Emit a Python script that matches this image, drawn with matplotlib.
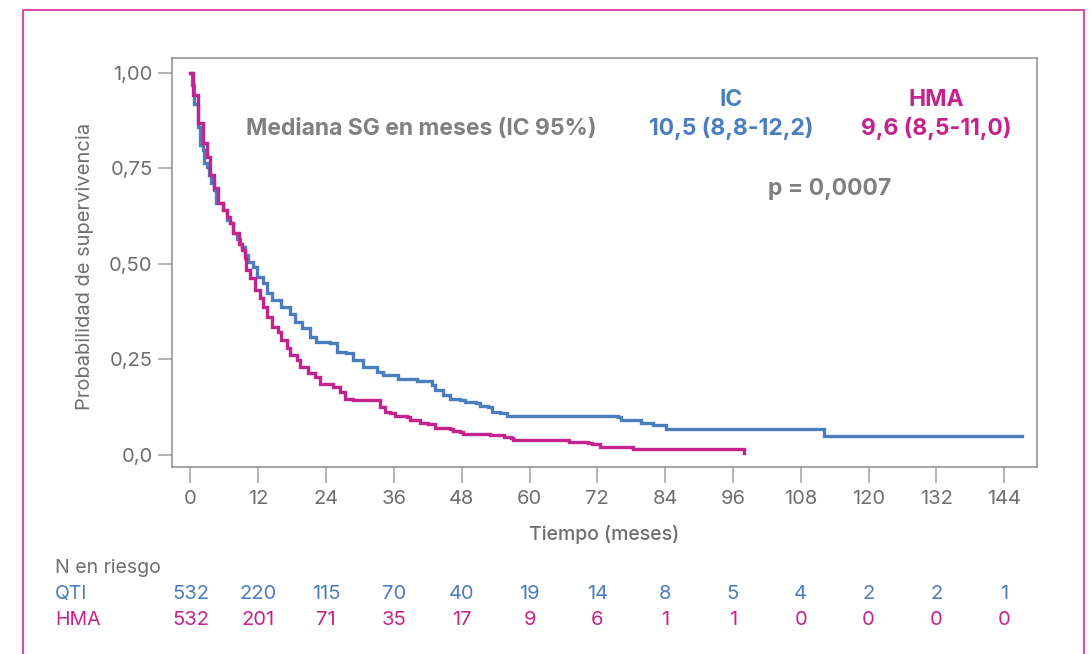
import matplotlib.pyplot as plt
from matplotlib.lines import Line2D

plt.rcParams['font.family'] = ['Inter', 'DejaVu Sans']

W, H = 1091, 654

BLUE = '#4a7ebf'
MAGENTA = '#c4228c'
GRAY = '#6d6e71'
LIGHT_GRAY = '#808080'

# Kaplan-Meier step points (months, survival probability)
qti_t = [0, 0.2, 0.3, 0.6, 1.4, 1.7, 2.2, 2.4, 2.9, 3.2, 3.7, 4.2, 4.6, 5.8, 6.4, 7.0,
         7.6, 8.2, 8.8, 9.1, 9.6, 10.2, 11.1, 11.7, 12.9, 13.5, 14.4, 16.1, 17.6, 18.5,
         19.7, 21.1, 22.3, 24.7, 25.9, 27.6, 28.8, 30.6, 33.0, 34.1, 36.8, 40.0, 42.7,
         43.3, 44.7, 45.9, 47.7, 48.6, 50.6, 51.2, 52.7, 53.3, 54.8, 56.0, 72.0, 75.7,
         76.1, 79.7, 81.8, 84.1, 112.1, 147.1]
qti_s = [1.0, 0.985, 0.967, 0.919, 0.858, 0.81, 0.797, 0.763, 0.754, 0.732, 0.71, 0.693,
         0.658, 0.64, 0.614, 0.606, 0.58, 0.566, 0.553, 0.545, 0.523, 0.505, 0.492, 0.466,
         0.449, 0.423, 0.405, 0.388, 0.370, 0.348, 0.331, 0.309, 0.296, 0.292, 0.270,
         0.266, 0.248, 0.231, 0.218, 0.209, 0.198, 0.194, 0.183, 0.170, 0.157, 0.148,
         0.144, 0.139, 0.135, 0.128, 0.126, 0.113, 0.111, 0.102, 0.102, 0.100, 0.093,
         0.085, 0.078, 0.069, 0.050, 0.050]

hma_t = [0, 0.5, 1.4, 2.3, 2.9, 3.5, 4.2, 4.9, 5.75, 6.4, 7.0, 7.6, 8.5, 9.1, 9.6, 9.9,
         10.5, 11.4, 12.3, 12.9, 13.5, 14.4, 15.5, 16.1, 17.0, 17.6, 18.8, 19.4, 20.8,
         22.0, 22.9, 25.3, 26.5, 27.3, 28.8, 33.5, 34.4, 35.3, 36.2, 38.3, 38.8, 40.6,
         42.1, 43.3, 45.9, 46.5, 47.7, 48.3, 53.0, 55.4, 56.8, 57.1, 66.9, 70.4, 71.0,
         72.5, 78.3, 97.8, 97.9]
hma_s = [1.0, 0.941, 0.867, 0.815, 0.78, 0.732, 0.698, 0.658, 0.64, 0.623, 0.606, 0.58,
         0.553, 0.536, 0.514, 0.484, 0.462, 0.431, 0.410, 0.388, 0.362, 0.335, 0.322,
         0.301, 0.279, 0.261, 0.248, 0.231, 0.214, 0.205, 0.187, 0.179, 0.165, 0.148,
         0.144, 0.126, 0.113, 0.109, 0.102, 0.099, 0.093, 0.083, 0.081, 0.072, 0.068,
         0.063, 0.061, 0.055, 0.052, 0.048, 0.046, 0.039, 0.035, 0.032, 0.028, 0.022,
         0.0166, 0.0166, 0.005]

x_ticks = list(range(0, 145, 12))
y_ticks = [0.0, 0.25, 0.50, 0.75, 1.00]
y_labels = ['0,0', '0,25', '0,50', '0,75', '1,00']

risk_qti = [532, 220, 115, 70, 40, 19, 14, 8, 5, 4, 2, 2, 1]
risk_hma = [532, 201, 71, 35, 17, 9, 6, 1, 1, 0, 0, 0, 0]


def fx(x):
    return x / W


def fy(y):
    return 1 - y / H


fig = plt.figure(figsize=(W / 100, H / 100), dpi=100)

# pink outer frame, open at the bottom
fig.add_artist(Line2D([fx(23), fx(23), fx(1084), fx(1084)],
                      [fy(660), fy(9.5), fy(9.5), fy(660)],
                      color='#d6399f', lw=1.3))

ax = fig.add_axes([fx(172), fy(467), fx(1037) - fx(172), fy(58) - fy(467)])
ax.step(qti_t, qti_s, where='post', color=BLUE, lw=2.4, solid_joinstyle='miter')
ax.step(hma_t, hma_s, where='post', color=MAGENTA, lw=2.4, solid_joinstyle='miter')

ax.set_xlim(-3.27, 149.8)
ax.set_ylim(-0.031, 1.038)

ax.set_xticks(x_ticks)
ax.set_xticklabels([str(v) for v in x_ticks])
ax.set_yticks(y_ticks)
ax.set_yticklabels(y_labels)
ax.tick_params(axis='x', length=11.5, width=1.1, color='#a0a0a0', pad=5,
               labelsize=14.5, labelcolor=GRAY)
ax.tick_params(axis='y', length=10, width=1.1, color='#a0a0a0', pad=4,
               labelsize=14.5, labelcolor=GRAY)
for sp in ax.spines.values():
    sp.set_color('#8c8c8c')
    sp.set_linewidth(1.1)

ax.set_xlabel('Tiempo (meses)', fontsize=14, fontweight='medium', color=GRAY, labelpad=12)
fig.text(fx(85), fy(266), 'Probabilidad de supervivencia', rotation=90,
         ha='center', va='center', fontsize=14.5, color=GRAY)

# median OS annotation
fig.text(fx(421), fy(129), 'Mediana SG en meses (IC 95%)', ha='center', va='center',
         fontsize=16.5, fontweight='bold', color=LIGHT_GRAY)
fig.text(fx(731), fy(100), 'IC', ha='center', va='center',
         fontsize=16.5, fontweight='bold', color=BLUE)
fig.text(fx(731), fy(129), '10,5 (8,8-12,2)', ha='center', va='center',
         fontsize=16.5, fontweight='bold', color=BLUE)
fig.text(fx(936), fy(100), 'HMA', ha='center', va='center',
         fontsize=16.5, fontweight='bold', color=MAGENTA)
fig.text(fx(936), fy(129), '9,6 (8,5-11,0)', ha='center', va='center',
         fontsize=16.5, fontweight='bold', color=MAGENTA)
fig.text(fx(830), fy(189), 'p = 0,0007', ha='center', va='center',
         fontsize=16.5, fontweight='bold', color=LIGHT_GRAY)

# number at risk table
trans = ax.get_xaxis_transform()
fig.text(fx(55), fy(568), 'N en riesgo', ha='left', va='center', fontsize=14, color=GRAY)
fig.text(fx(55), fy(594), 'QTI', ha='left', va='center', fontsize=14, color=BLUE)
fig.text(fx(55), fy(620), 'HMA', ha='left', va='center', fontsize=14, color=MAGENTA)
for t, q, h in zip(x_ticks, risk_qti, risk_hma):
    ax.text(t, (467 - 594) / 409, str(q), transform=trans, ha='center', va='center',
            fontsize=14.5, color=BLUE, clip_on=False)
    ax.text(t, (467 - 620) / 409, str(h), transform=trans, ha='center', va='center',
            fontsize=14.5, color=MAGENTA, clip_on=False)

fig.savefig('out.png', dpi=100)
